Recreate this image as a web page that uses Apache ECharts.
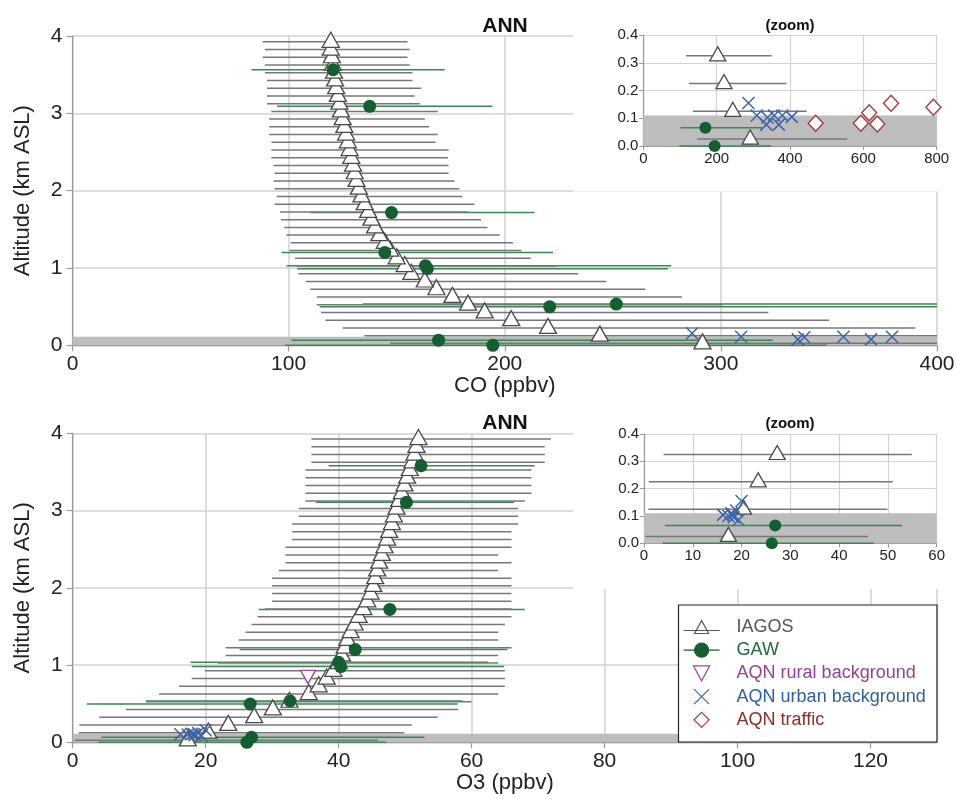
<!DOCTYPE html>
<html><head><meta charset="utf-8">
<script src="https://cdn.jsdelivr.net/npm/echarts@6/dist/echarts.min.js"></script>
<style>html,body{margin:0;padding:0;background:#fff}#c{width:957px;height:799px}</style>
</head><body><div id="c"></div>
<script>
// ---------------- data ----------------
const altLevels = [0.025,0.125,0.225,0.325,0.425,0.525,0.625,0.725,0.825,0.925,1.025,1.125,1.225,1.325,1.425,1.525,1.625,1.725,1.825,1.925,2.025,2.125,2.225,2.325,2.425,2.525,2.625,2.725,2.825,2.925,3.025,3.125,3.225,3.325,3.425,3.525,3.625,3.725,3.825,3.925];

const coMedian = [291.5,244,220,203,190.7,183,175.8,168.4,163,156.8,153.7,150,147,144.5,142,140,138.3,136.8,135.2,133.7,132.5,131.4,130.6,129.8,129,128.2,127.4,126.6,125.8,125,124.2,123.5,122.8,122,121.5,121,120.5,120,119.5,119.5];
const coLow = [147,135,125,117,115,113,113,110,108,104.5,103.5,103,100.5,101,99,98,96.5,96,93.5,94.5,93.5,93,93.5,93,92,92,92,91,91,91,92,90,90,90,90,89,89,88,89,88];
const coHigh = [556,445.6,390,350,322,301,282,265,247,234,224,212,207.7,203.8,197.6,192,189,183,186,180.4,179,176.8,174,174,173.7,174,168,169,165,163,169,160.7,158.3,161.4,157.3,157.3,156,155,156,155];

const o3Median = [17.3,20.4,23.4,27.3,30.1,32.6,35.5,37.0,38.2,39.2,40.0,40.5,40.9,41.3,41.8,42.4,43.0,43.7,44.3,44.8,45.2,45.5,45.8,46.1,46.5,46.9,47.3,47.6,48.0,48.3,48.7,49.1,49.5,49.9,50.3,50.7,51.1,51.4,51.7,52.0];
const o3Low = [0.3,0.9,1.0,4.0,8.0,11.0,13.0,16.0,17.9,19.9,21.8,23.0,23.0,25.0,26.0,26.9,27.8,28.9,30.0,30.0,30.0,30.0,31.0,32.0,32.0,32.0,33.0,33.0,33.0,34.0,34.0,35.0,35.0,35.0,35.0,35.0,35.9,35.9,35.9,35.9];
const o3High = [45.9,49.9,51.0,54.9,58.0,60.0,64,65,65,65,64,64,66,64,64,65,66,66,66,66,66,66,64,66,64,66,66,66,67,67,67,68,69,69,69,69,71,71,71,71.9];

const gawCoValue = [120.6,137.5,147.6,144.5,163.3,164.2,220.8,251.6,169.4,194.5];
const gawCoAlt   = [3.565,3.09,1.716,1.2,1.03,0.99,0.498,0.533,0.066,0.0];
const gawCoLow   = [82.8,94.7,110,96.7,99,104,114.4,134.4,101.3,98.2];
const gawCoHigh  = [172.2,194.3,213.8,222.3,277,275.5,430,440,324,349];

const gawO3Value = [52.4,50.2,47.7,42.5,40.0,40.3,32.7,26.7,26.9,26.2];
const gawO3Alt   = [3.58,3.107,1.72,1.2,1.035,0.98,0.535,0.496,0.065,0.0];
const gawO3Low   = [38.5,36.6,28,25.1,17.7,17.9,11,2.1,4.3,3.8];
const gawO3High  = [69.5,66.4,68,65.4,62.5,64.9,58.6,57.9,52.9,47.1];

const urbanCoValue = [286.7,309.4,335.6,338.6,356.7,369.5,379.2,405];
const urbanCoAlt   = [0.155,0.11,0.077,0.103,0.11,0.077,0.11,0.105];
const trafficCoValue = [470,593,616,638,675.5,791];
const trafficCoAlt   = [0.082,0.082,0.12,0.079,0.154,0.14];

const urbanO3Value = [16.2,17.3,17.9,18.4,18.9,19.4,20.0,18.2];
const urbanO3Alt   = [0.104,0.10,0.11,0.095,0.12,0.085,0.155,0.105];
const ruralO3Value = [35.4];
const ruralO3Alt   = [0.807];

const bandRange = [0, 0.11];           // grey surface layer band (km)
const coAxis = [0, 400, 100];          // min, max, interval
const coZoomAxis = [0, 800, 200];
const o3Axis = [0, 130, 20];
const o3ZoomAxis = [0, 60, 10];
const altAxis = [0, 4, 1];
const altZoomAxis = [0, 0.4, 0.1];
const legendNames = ['IAGOS','GAW','AQN rural background','AQN urban background','AQN traffic'];

// ---------------- styling ----------------
const FONT = "'Liberation Sans', Arial, Helvetica, sans-serif";
const C_IAGOS_BAR = '#777777', C_GAW_BAR = '#3a8753', C_TRI = '#484848', C_GAW = '#145e30';
const C_URBAN = '#3d64a8', C_TRAFFIC = '#a33a3a', C_RURAL = '#a046a0';

function rangeSeries(name, lo, hi, alt, color, gi, z) {
  return {
    type: 'custom', name, xAxisIndex: gi, yAxisIndex: gi, z, silent: true, animation: false,
    data: alt.map((a, i) => [lo[i], hi[i], a]),
    encode: { x: [0, 1], y: 2 },
    renderItem(params, api) {
      const a = api.value(2);
      const p1 = api.coord([api.value(0), a]);
      const p2 = api.coord([api.value(1), a]);
      const cs = params.coordSys;
      const y = p1[1];
      if (y < cs.y - 1 || y > cs.y + cs.height + 1) return null;
      const x1 = Math.max(cs.x, Math.min(cs.x + cs.width, p1[0]));
      const x2 = Math.max(cs.x, Math.min(cs.x + cs.width, p2[0]));
      if (x2 <= x1) return null;
      return { type: 'line', shape: { x1, y1: y, x2, y2: y }, style: { stroke: color, lineWidth: 1.5 } };
    }
  };
}
function bandSeries(gi, z) {
  return {
    type: 'custom', name: 'band', xAxisIndex: gi, yAxisIndex: gi, z, silent: true, animation: false,
    data: [[bandRange[0], bandRange[1]]],
    encode: { y: [0, 1] },
    renderItem(params, api) {
      const cs = params.coordSys;
      const yTop = api.coord([0, api.value(1)])[1];
      const yBot = api.coord([0, api.value(0)])[1];
      return { type: 'rect', shape: { x: cs.x, y: yTop, width: cs.width, height: yBot - yTop }, style: { fill: '#bdbdbd' } };
    }
  };
}
function pts(name, xs, ys, gi, z, symbol, size, style, extra) {
  return Object.assign({
    type: 'scatter', name, xAxisIndex: gi, yAxisIndex: gi, z, symbol, symbolSize: size,
    itemStyle: Object.assign({ opacity: 1 }, style), data: xs.map((v, i) => [v, ys[i]]), silent: true, animation: false,
    emphasis: { disabled: true }, clip: true
  }, extra || {});
}
const triStyle = { color: '#ffffff', borderColor: C_TRI, borderWidth: 1.3 };
const gawStyle = { color: C_GAW, borderColor: C_GAW, borderWidth: 0 };
const xStyle = { color: 'rgba(0,0,0,0)', borderColor: C_URBAN, borderWidth: 1.5 };
const diaStyle = { color: '#ffffff', borderColor: C_TRAFFIC, borderWidth: 1.4 };
const rurStyle = { color: '#ffffff', borderColor: C_RURAL, borderWidth: 1.4 };
const X_PATH = 'path://M0,0L10,10M10,0L0,10';

function mainX(gi, ax, name) {
  return {
    gridIndex: gi, type: 'value', min: ax[0], max: ax[1], interval: ax[2], z: 0,
    name, nameLocation: 'middle', nameGap: 29,
    nameTextStyle: { fontSize: 22, color: '#222', fontFamily: FONT },
    axisLine: { show: true, onZero: false, lineStyle: { color: '#999', width: 1.2 } },
    axisTick: { show: true, length: 6, lineStyle: { color: '#999', width: 1.2 } },
    axisLabel: { fontSize: 21, color: '#222', fontFamily: FONT, margin: 8, showMaxLabel: ax[1] % ax[2] === 0 },
    splitLine: { show: true, lineStyle: { color: '#d2d2d2', width: 1.5 } }
  };
}
function mainY(gi) {
  return {
    gridIndex: gi, type: 'value', min: altAxis[0], max: altAxis[1], interval: altAxis[2], z: 0,
    name: 'Altitude (km ASL)', nameLocation: 'middle', nameGap: 39, nameRotate: 90,
    nameTextStyle: { fontSize: 22, color: '#222', fontFamily: FONT },
    axisLine: { show: true, onZero: false, lineStyle: { color: '#999', width: 1.2 } },
    axisTick: { show: true, length: 6, lineStyle: { color: '#999', width: 1.2 } },
    axisLabel: { fontSize: 21, color: '#222', fontFamily: FONT, margin: 10 },
    splitLine: { show: true, lineStyle: { color: '#d2d2d2', width: 1.5 } }
  };
}
function zoomX(gi, ax) {
  return {
    gridIndex: gi, type: 'value', min: ax[0], max: ax[1], interval: ax[2], z: 105,
    axisLine: { show: true, onZero: false, lineStyle: { color: '#999', width: 1.2 } },
    axisTick: { show: true, length: 4, lineStyle: { color: '#999' } },
    axisLabel: { fontSize: 15, color: '#222', fontFamily: FONT, margin: 5 },
    splitLine: { show: true, lineStyle: { color: '#d2d2d2', width: 1.2 } }
  };
}
function zoomY(gi) {
  return {
    gridIndex: gi, type: 'value', min: altZoomAxis[0], max: altZoomAxis[1], interval: altZoomAxis[2], z: 105,
    axisLine: { show: true, onZero: false, lineStyle: { color: '#999', width: 1.2 } },
    axisTick: { show: true, length: 4, lineStyle: { color: '#999' } },
    axisLabel: { fontSize: 15, color: '#222', fontFamily: FONT, margin: 5, formatter: v => v.toFixed(1) },
    splitLine: { show: true, lineStyle: { color: '#d2d2d2', width: 1.2 } }
  };
}

function panelSeries(gi, zb, med, lo, hi, gV, gA, gL, gH, extras, triSize, circSize) {
  const s = [
    bandSeries(gi, zb + 1),
    rangeSeries('GAW range', gL, gH, gA, C_GAW_BAR, gi, zb + 2),
    rangeSeries('IAGOS range', lo, hi, altLevels, C_IAGOS_BAR, gi, zb + 3),
    pts('IAGOS', med, altLevels, gi, zb + 4, 'triangle', triSize, triStyle, { symbolOffset: [0, -2] })
  ];
  extras.forEach(e => s.push(e));
  s.push(pts('GAW', gV, gA, gi, zb + 6, 'circle', circSize, gawStyle));
  return s;
}

const series = [].concat(
  // grid 0: CO main
  panelSeries(0, 0, coMedian, coLow, coHigh, gawCoValue, gawCoAlt, gawCoLow, gawCoHigh, [
    pts('AQN urban background', urbanCoValue, urbanCoAlt, 0, 5, X_PATH, [12, 12], xStyle),
    pts('AQN traffic', trafficCoValue, trafficCoAlt, 0, 5, 'diamond', [15, 16], diaStyle)
  ], [17, 15], 13),
  // grid 1: CO zoom
  panelSeries(1, 110, coMedian, coLow, coHigh, gawCoValue, gawCoAlt, gawCoLow, gawCoHigh, [
    pts('AQN urban background', urbanCoValue, urbanCoAlt, 1, 115, X_PATH, [12, 12], xStyle),
    pts('AQN traffic', trafficCoValue, trafficCoAlt, 1, 115, 'diamond', [15, 16], diaStyle)
  ], [16, 14], 12),
  // grid 2: O3 main
  panelSeries(2, 0, o3Median, o3Low, o3High, gawO3Value, gawO3Alt, gawO3Low, gawO3High, [
    pts('AQN rural background', ruralO3Value, ruralO3Alt, 2, 5, 'triangle', [15, 13], rurStyle, { symbolRotate: 180, symbolOffset: [0, -3] }),
    pts('AQN urban background', urbanO3Value, urbanO3Alt, 2, 5, X_PATH, [12, 12], xStyle)
  ], [17, 15], 13),
  // grid 3: O3 zoom
  panelSeries(3, 110, o3Median, o3Low, o3High, gawO3Value, gawO3Alt, gawO3Low, gawO3High, [
    pts('AQN rural background', ruralO3Value, ruralO3Alt, 3, 115, 'triangle', [15, 13], rurStyle, { symbolRotate: 180 }),
    pts('AQN urban background', urbanO3Value, urbanO3Alt, 3, 115, X_PATH, [12, 12], xStyle)
  ], [16, 14], 12)
);

const legendIcons = [
  { icon: 'path://M0,10L36,10M11,13L18,0L25,13Z', itemStyle: { color: '#fff', borderColor: '#555', borderWidth: 1.2 }, color: '#555555' },
  { icon: 'path://M0,7L36,7M11,7A7,7,0,1,1,25,7A7,7,0,1,1,11,7Z', itemStyle: { color: C_GAW, borderColor: C_GAW, borderWidth: 1.2 }, color: '#1e6b3c' },
  { icon: 'path://M0,0L14,0L7,13Z', itemStyle: { color: '#fff', borderColor: C_RURAL, borderWidth: 1.2 }, color: '#9a3d9a' },
  { icon: 'path://M0,0L12,12M12,0L0,12', itemStyle: { color: 'rgba(0,0,0,0)', borderColor: C_URBAN, borderWidth: 1.2 }, color: '#2f5f9e' },
  { icon: 'path://M7.5,0L15,7.5L7.5,15L0,7.5Z', itemStyle: { color: '#fff', borderColor: C_TRAFFIC, borderWidth: 1.2 }, color: '#8e2a2a' }
];

function txt(x, y, text, size, weight) {
  return { type: 'text', x, y, z: 130, silent: true,
    style: { text, fill: '#111', fontSize: size, fontWeight: weight, fontFamily: FONT,
      font: weight + ' ' + size + 'px ' + FONT, textAlign: 'center', textVerticalAlign: 'middle', align: 'center', verticalAlign: 'middle' } };
}

const option = {
  animation: false,
  backgroundColor: '#ffffff',
  textStyle: { fontFamily: FONT },
  grid: [
    { left: 72.5, top: 36, width: 864.5, height: 309.3, outerBoundsMode: 'none', containLabel: false },
    { left: 643.3, top: 35, width: 293.4, height: 111, outerBoundsMode: 'none', containLabel: false, z: 105 },
    { left: 72.7, top: 433.3, width: 864.3, height: 309, outerBoundsMode: 'none', containLabel: false },
    { left: 644, top: 434, width: 292.7, height: 109.3, outerBoundsMode: 'none', containLabel: false, z: 105 }
  ],
  xAxis: [mainX(0, coAxis, 'CO (ppbv)'), zoomX(1, coZoomAxis), mainX(2, o3Axis, 'O3 (ppbv)'), zoomX(3, o3ZoomAxis)],
  yAxis: [mainY(0), zoomY(1), mainY(2), zoomY(3)],
  legend: {
    show: true, orient: 'vertical', left: 683, top: 618, itemWidth: 36, itemHeight: 15, itemGap: 5.2,
    selectedMode: false, z: 120, padding: 0,
    textStyle: { fontSize: 18, fontFamily: FONT, lineHeight: 18, padding: [0, 0, 0, 12] },
    data: legendNames.map((n, i) => ({ name: n, icon: legendIcons[i].icon, itemStyle: legendIcons[i].itemStyle,
      textStyle: { color: legendIcons[i].color } }))
  },
  graphic: { elements: [
    { type: 'rect', z: 100, silent: true, shape: { x: 573, y: 0, width: 384, height: 191.5 }, style: { fill: '#ffffff' } },
    { type: 'rect', z: 100, silent: true, shape: { x: 573, y: 398, width: 384, height: 191 }, style: { fill: '#ffffff' } },
    { type: 'rect', z: 115, silent: true, shape: { x: 678.5, y: 605, width: 258.5, height: 137 }, style: { fill: '#ffffff', stroke: '#222', lineWidth: 1.2 } },
    txt(505, 26, 'ANN', 21, 'bold'),
    txt(505, 423, 'ANN', 21, 'bold'),
    txt(790, 26, '(zoom)', 15, 'bold'),
    txt(790, 424, '(zoom)', 15, 'bold')
  ] },
  series
};

const chart = echarts.init(document.getElementById('c'), null, { renderer: 'canvas' });
chart.setOption(option);
</script>
</body></html>
